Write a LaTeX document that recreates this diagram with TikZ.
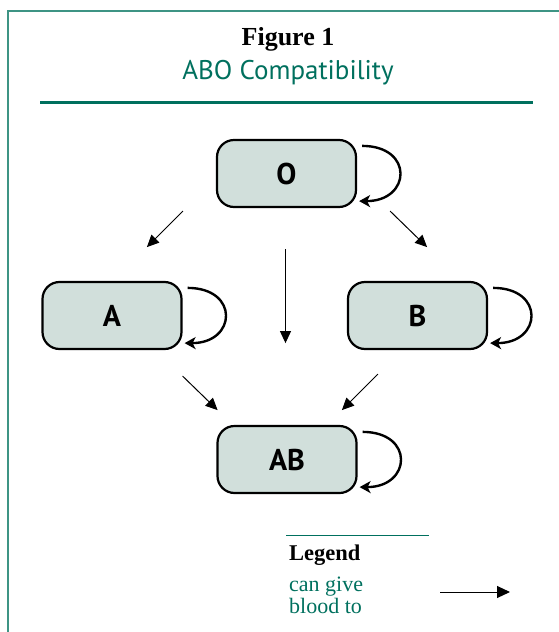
\documentclass[tikz,border=0pt]{standalone}
\usepackage{fontspec}
\setmainfont{Liberation Serif}
\setsansfont{PT Sans}
\usetikzlibrary{arrows.meta}
\definecolor{abogreen}{RGB}{0,112,94}
\definecolor{aboframe}{RGB}{62,148,132}
\definecolor{abofill}{RGB}{209,223,219}

\begin{document}
\begin{tikzpicture}[x=1pt,y=1pt,
  bloodtype/.style={draw=black, line width=2.2pt, fill=abofill, rounded corners=17pt,
    minimum width=139pt, minimum height=67pt, inner sep=0pt,
    font=\sffamily\bfseries\fontsize{30}{34}\selectfont},
  gives/.style={-{Triangle[length=12pt,width=11pt]}, line width=1pt},
  selfloop/.style={-{Stealth[length=11pt,width=12pt,inset=3pt]}, line width=2.4pt}]
\useasboundingbox (0,0) rectangle (559,-632);

% frame
\draw[aboframe, line width=2pt] (8,-632) -- (8,-11) -- (559,-11);

% title
\node[anchor=base, font=\bfseries\fontsize{26}{30}\selectfont] (fig) at (288,-45) {Figure 1};
\node[anchor=base, text=abogreen, font=\sffamily\fontsize{27}{31}\selectfont] (title) at (288,-79) {ABO Compatibility};
\draw[abogreen, line width=3pt] (40,-102) -- (533,-102);

% blood types
\node[bloodtype] (O) at (286.5,-173.5) {O};
\node[bloodtype] (A) at (112,-315.5) {A};
\node[bloodtype] (B) at (417.5,-315.5) {B};
\node[bloodtype] (AB) at (287,-459.5) {AB};

% self loops
\foreach \t in {O,A,B,AB}
  \draw[selfloop] ([shift={(5,-7)}]\t.north east) .. controls +(52,0) and +(52,0) .. ([shift={(2,7)}]\t.south east);

% donations
\draw[gives] ([shift={(-33,-3)}]O.south west) -- ++(-36,-36);
\draw[gives] ([shift={(33,-3)}]O.south east) -- ++(37,-36);
\draw[gives] ([shift={(-1,-41)}]O.south) -- ++(0,-94);
\draw[gives] ([shift={(0,-26)}]A.south east) -- ++(35,-34);
\draw[gives] ([shift={(31,-24)}]B.south west) -- ++(-36,-36);

% legend
\draw[abogreen, line width=1pt] (286,-535) -- (429,-535);
\node[anchor=base west, inner sep=0pt, font=\bfseries\fontsize{22.5}{26}\selectfont] (legend) at (289,-560) {Legend};
\node[anchor=base west, inner sep=0pt, text=abogreen, font=\fontsize{22}{22}\selectfont] (cangive) at (289,-591) {can give};
\node[anchor=base west, inner sep=0pt, text=abogreen, font=\fontsize{22}{22}\selectfont] (bloodto) at (289,-613) {blood to};
\coordinate (key) at (440,-592);
\draw[gives, -{Triangle[length=13pt,width=12pt]}] (key) -- ++(70,0);

\end{tikzpicture}
\end{document}
